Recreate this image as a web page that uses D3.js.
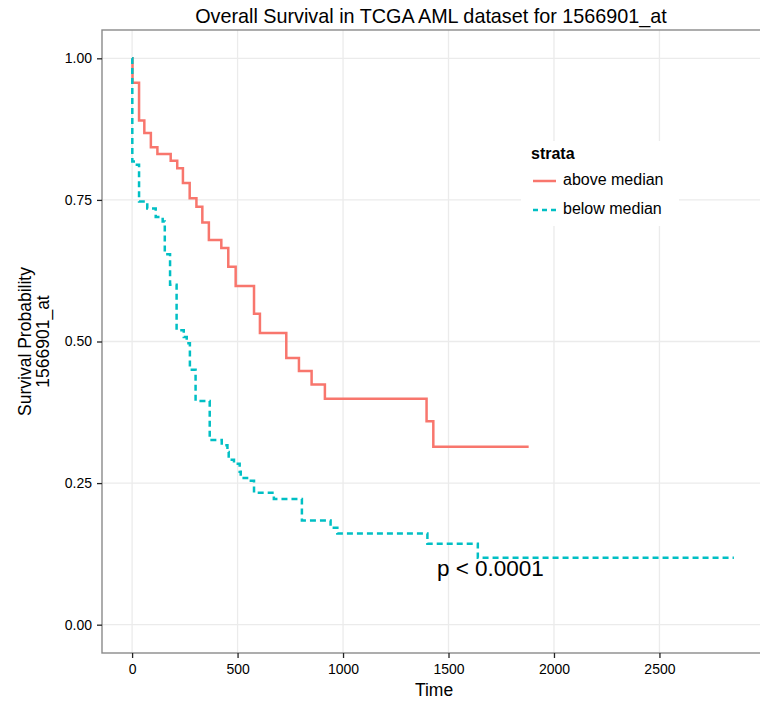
<!DOCTYPE html>
<html>
<head>
<meta charset="utf-8">
<script src="https://cdn.jsdelivr.net/npm/d3@7"></script>
<style>
  html, body { margin: 0; padding: 0; background: #fff; }
  svg { display: block; font-family: "Liberation Sans", Arial, Helvetica, sans-serif; }
</style>
</head>
<body>
<svg id="chart" width="760" height="702"></svg>
<script>
// ---- data ----
const redTime = [0, 2, 33, 58, 89, 120, 183, 214, 241, 273, 305, 333, 364, 423, 456, 491, 578, 606, 731, 791, 851, 914, 1396, 1428, 1880];
const redSurv = [1, 0.957, 0.890, 0.868, 0.843, 0.831, 0.819, 0.806, 0.780, 0.753, 0.738, 0.710, 0.679, 0.665, 0.632, 0.598, 0.549, 0.515, 0.471, 0.448, 0.424, 0.399, 0.359, 0.314, 0.314];

const cyanTime = [0, 1, 8, 33, 72, 112, 145, 155, 180, 211, 245, 259, 274, 301, 368, 425, 452, 458, 483, 510, 515, 545, 578, 672, 805, 941, 973, 1400, 1639, 2853];
const cyanSurv = [1, 0.818, 0.812, 0.747, 0.735, 0.720, 0.712, 0.654, 0.600, 0.520, 0.508, 0.497, 0.450, 0.395, 0.326, 0.317, 0.305, 0.291, 0.284, 0.270, 0.259, 0.254, 0.233, 0.222, 0.184, 0.171, 0.161, 0.143, 0.118, 0.118];

const strataNames = ["above median", "below median"];
const strataColors = ["#F8766D", "#00BFC4"];
const xTicks = [0, 500, 1000, 1500, 2000, 2500];
const yTicks = [0, 0.25, 0.5, 0.75, 1.0];
const titleText = "Overall Survival in TCGA AML dataset for 1566901_at";
const pvalText = "p < 0.0001";

// ---- layout ----
const svg = d3.select("#chart");
const panel = { left: 102, top: 30, right: 764, bottom: 653 };

const xMax = d3.max(cyanTime.concat(redTime));
const x = d3.scaleLinear()
  .domain([-0.05 * xMax, xMax * 1.05])
  .range([panel.left, panel.right]);
const y = d3.scaleLinear()
  .domain([-0.05, 1.05])
  .range([panel.bottom, panel.top]);

svg.append("defs").append("clipPath").attr("id", "clip")
  .append("rect")
  .attr("x", panel.left).attr("y", panel.top)
  .attr("width", panel.right - panel.left).attr("height", panel.bottom - panel.top);

// panel background
svg.append("rect")
  .attr("x", panel.left).attr("y", panel.top)
  .attr("width", panel.right - panel.left).attr("height", panel.bottom - panel.top)
  .attr("fill", "#fff");

// gridlines
const grid = svg.append("g").attr("clip-path", "url(#clip)");
grid.selectAll(".gx").data(xTicks).enter().append("line")
  .attr("x1", d => x(d)).attr("x2", d => x(d))
  .attr("y1", panel.top).attr("y2", panel.bottom)
  .attr("stroke", "#ebebeb").attr("stroke-width", 1.3);
grid.selectAll(".gy").data(yTicks).enter().append("line")
  .attr("y1", d => y(d)).attr("y2", d => y(d))
  .attr("x1", panel.left).attr("x2", panel.right)
  .attr("stroke", "#ebebeb").attr("stroke-width", 1.3);

// curves
const line = d3.line()
  .x(d => x(d[0])).y(d => y(d[1]))
  .curve(d3.curveStepAfter);

const curves = svg.append("g").attr("clip-path", "url(#clip)");
curves.append("path")
  .datum(redTime.map((t, i) => [t, redSurv[i]]))
  .attr("d", line)
  .attr("fill", "none")
  .attr("stroke", strataColors[0])
  .attr("stroke-width", 2.5);
curves.append("path")
  .datum(cyanTime.map((t, i) => [t, cyanSurv[i]]))
  .attr("d", line)
  .attr("fill", "none")
  .attr("stroke", strataColors[1])
  .attr("stroke-width", 2.5)
  .attr("stroke-dasharray", "6,4");

// p-value
svg.append("text")
  .attr("x", x(1445)).attr("y", y(0.097))
  .attr("dominant-baseline", "middle")
  .attr("font-size", 22.5)
  .attr("fill", "#000")
  .text(pvalText);

// panel border
svg.append("rect")
  .attr("x", panel.left).attr("y", panel.top)
  .attr("width", panel.right - panel.left).attr("height", panel.bottom - panel.top)
  .attr("fill", "none").attr("stroke", "#8a8a8a").attr("stroke-width", 1.4);

// axes
const xAxis = d3.axisBottom(x).tickValues(xTicks).tickSize(5).tickPadding(6).tickFormat(d3.format("d"));
const gx = svg.append("g").attr("transform", `translate(0,${panel.bottom})`).call(xAxis);
gx.attr("font-size", 14).attr("font-family", "Liberation Sans, Arial, sans-serif");
gx.select(".domain").remove();
gx.selectAll(".tick line").attr("stroke", "#222").attr("stroke-width", 1.3);
gx.selectAll(".tick text").attr("fill", "#000");

const yAxis = d3.axisLeft(y).tickValues(yTicks).tickSize(5).tickPadding(5).tickFormat(d3.format(".2f"));
const gy = svg.append("g").attr("transform", `translate(${panel.left},0)`).call(yAxis);
gy.attr("font-size", 14).attr("font-family", "Liberation Sans, Arial, sans-serif");
gy.select(".domain").remove();
gy.selectAll(".tick line").attr("stroke", "#222").attr("stroke-width", 1.3);
gy.selectAll(".tick text").attr("fill", "#000");

// titles
svg.append("text")
  .attr("x", 431).attr("y", 18)
  .attr("text-anchor", "middle").attr("dominant-baseline", "middle")
  .attr("font-size", 19.8).attr("fill", "#000")
  .text(titleText);

svg.append("text")
  .attr("x", 434).attr("y", 691)
  .attr("text-anchor", "middle").attr("dominant-baseline", "middle")
  .attr("font-size", 17.5).attr("fill", "#000")
  .text("Time");

const midY = (panel.top + panel.bottom) / 2;
const yTitle = svg.append("text")
  .attr("transform", `translate(0,${midY}) rotate(-90)`)
  .attr("text-anchor", "middle")
  .attr("font-size", 17.5).attr("fill", "#000");
yTitle.append("tspan").attr("x", 0).attr("y", 31).text("Survival Probability");
yTitle.append("tspan").attr("x", 0).attr("y", 49).text("1566901_at");

// legend
const lg = svg.append("g");
lg.append("rect")
  .attr("x", 521).attr("y", 141).attr("width", 158).attr("height", 85)
  .attr("fill", "#fff");
lg.append("text")
  .attr("x", 531).attr("y", 155)
  .attr("dominant-baseline", "middle")
  .attr("font-size", 16).attr("font-weight", "bold").attr("fill", "#000")
  .text("strata");
const keyY = [181, 210];
strataNames.forEach((name, i) => {
  lg.append("line")
    .attr("x1", 533).attr("x2", 556)
    .attr("y1", keyY[i]).attr("y2", keyY[i])
    .attr("stroke", strataColors[i]).attr("stroke-width", 2.5)
    .attr("stroke-dasharray", i === 1 ? "5,4" : null);
  lg.append("text")
    .attr("x", 563).attr("y", keyY[i])
    .attr("dominant-baseline", "middle")
    .attr("font-size", 16).attr("fill", "#000")
    .text(name);
});
</script>
</body>
</html>
